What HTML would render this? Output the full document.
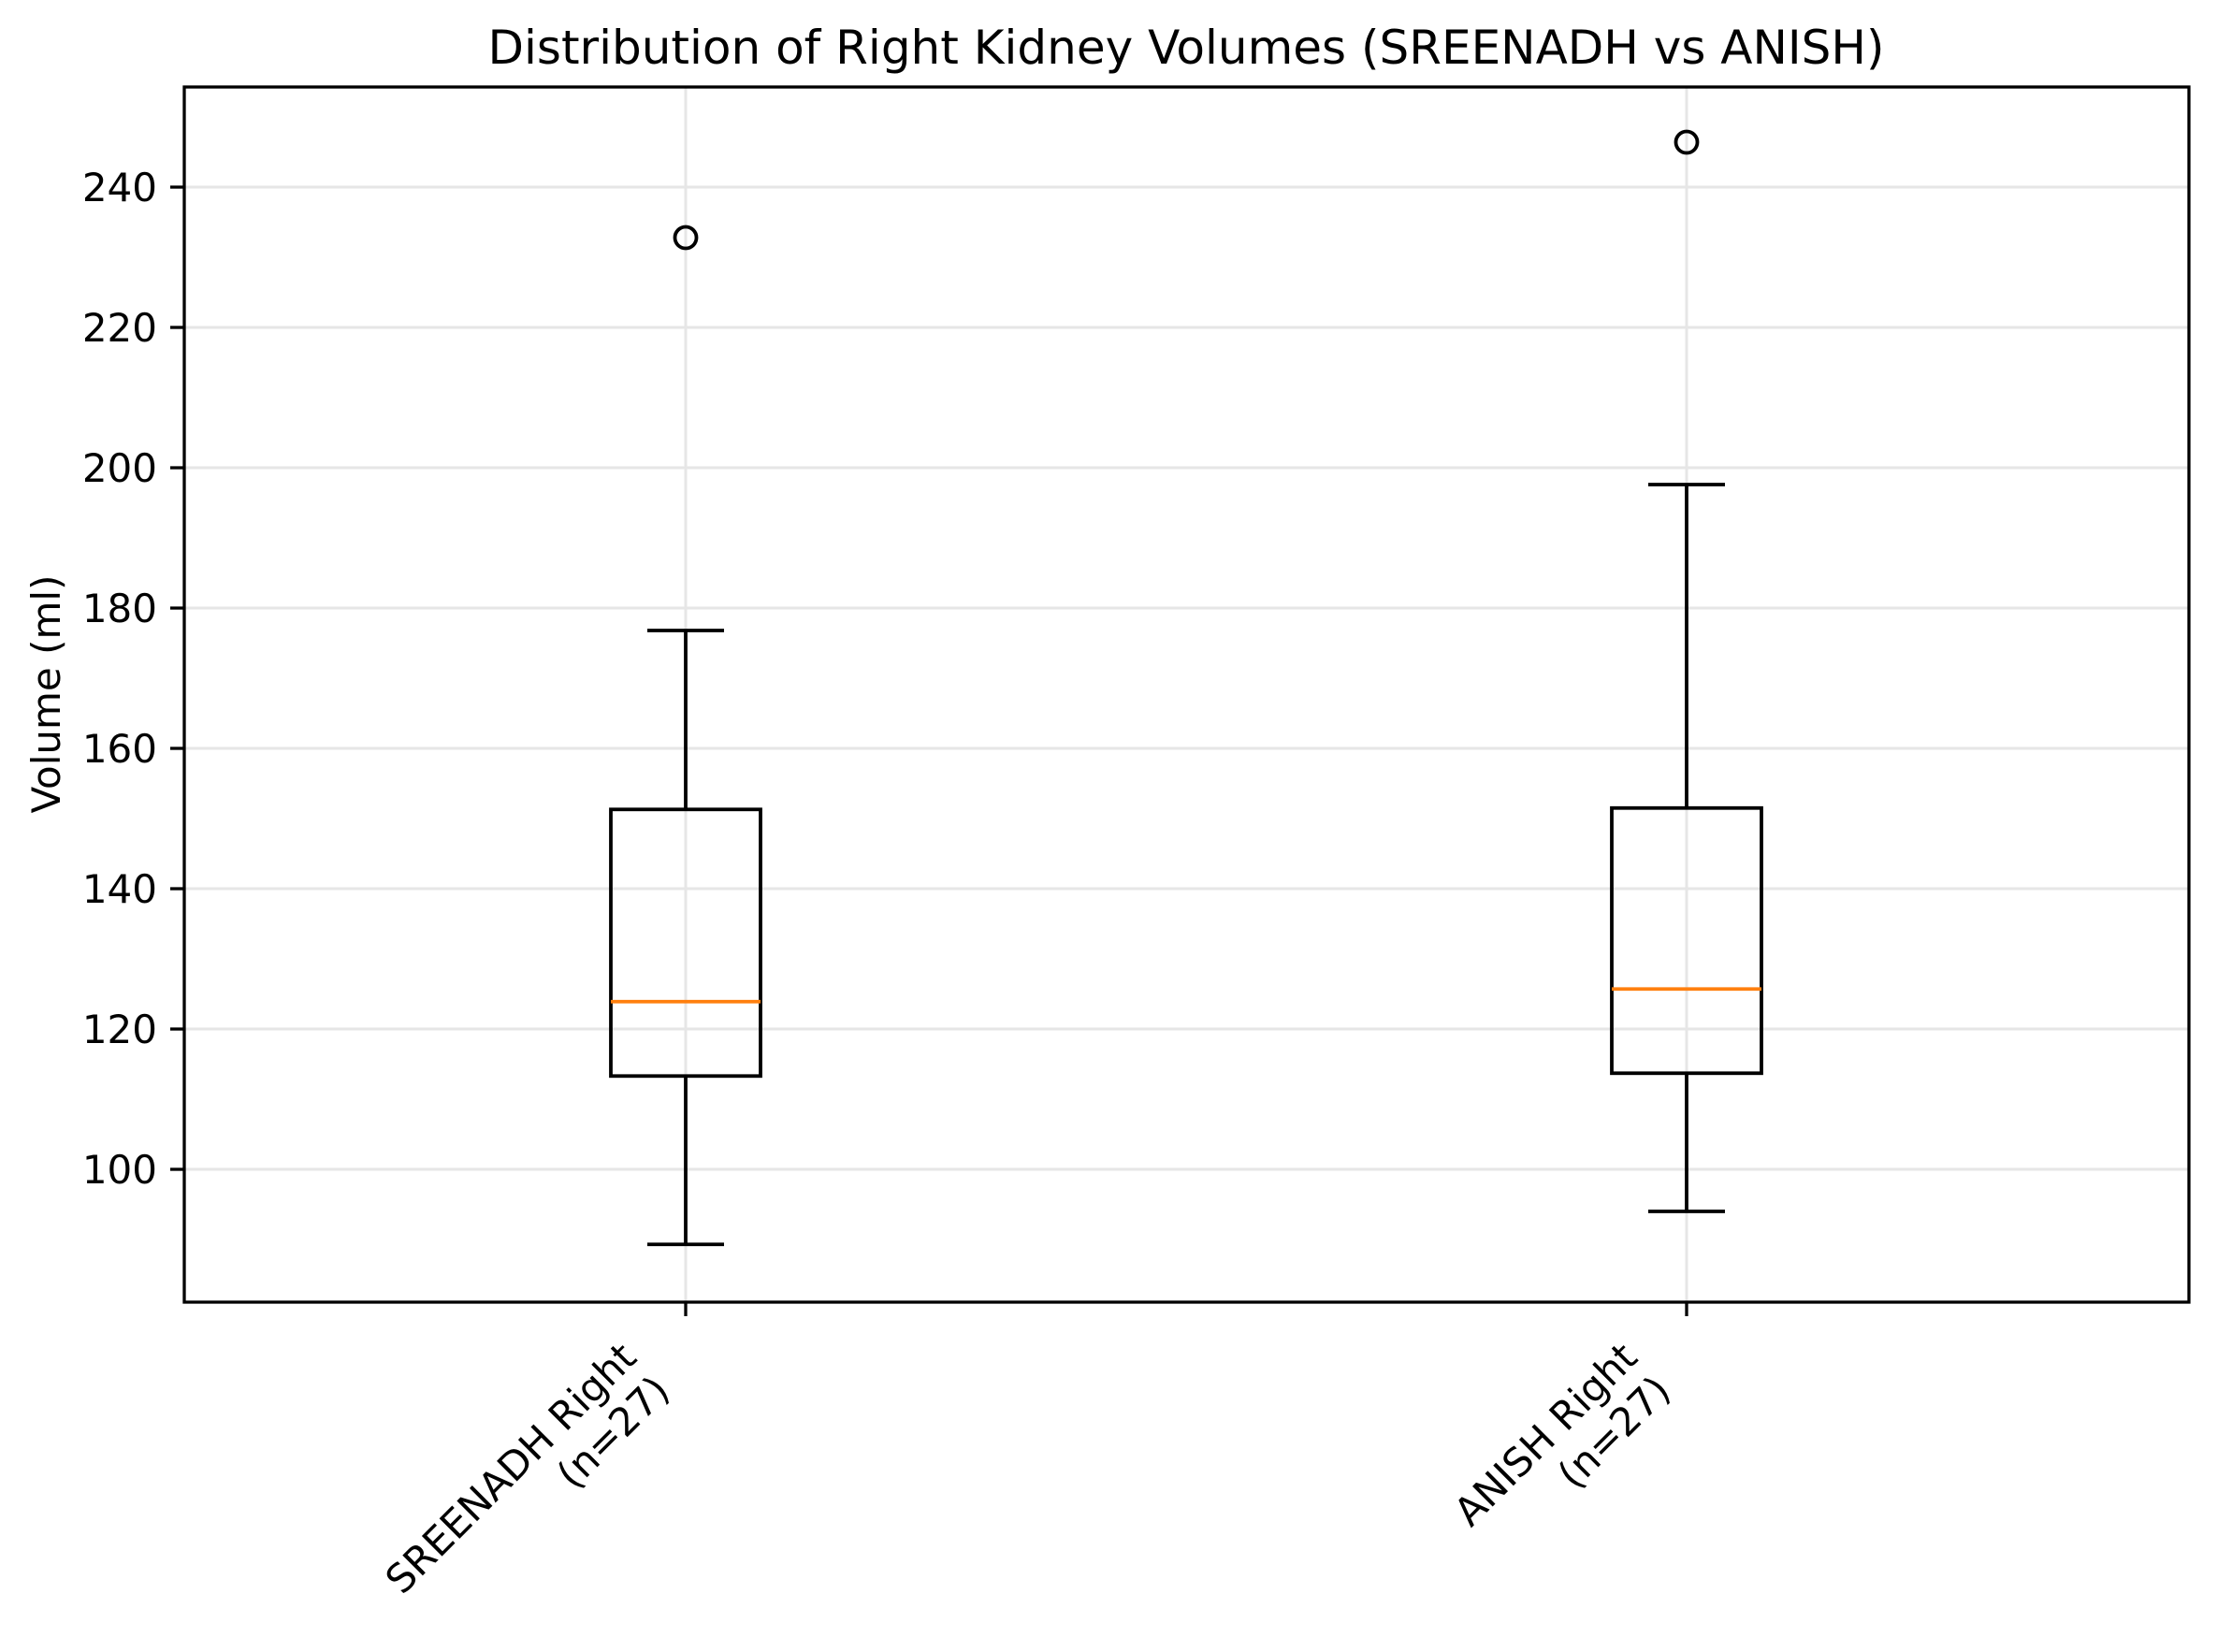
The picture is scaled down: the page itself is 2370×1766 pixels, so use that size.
<!DOCTYPE html>
<html><head><meta charset="utf-8"><style>
body{margin:0;background:#fff}
svg{display:block;font-family:"DejaVu Sans","Liberation Sans",sans-serif}
</style></head><body>
<svg id="chart" width="2370" height="1766" xmlns="http://www.w3.org/2000/svg">
<rect width="2370" height="1766" fill="#fff"/>
<text x="1268" y="68" font-size="50" text-anchor="middle">Distribution of Right Kidney Volumes (SREENADH vs ANISH)</text>
<text transform="translate(64,742) rotate(-90)" font-size="42" text-anchor="middle">Volume (ml)</text>
<g id="grid"></g><g id="marks"></g><g id="axes"></g>
</svg>
<script>
const categories = ["SREENADH Right", "ANISH Right"];
const counts = [27, 27];
const whiskerLow = [89.3, 94.0];
const q1 = [113.3, 113.7];
const medians = [123.9, 125.7];
const q3 = [151.3, 151.5];
const whiskerHigh = [176.8, 197.6];
const outliers = [[232.8], [246.4]];
const yTicks = [100, 120, 140, 160, 180, 200, 220, 240];

const L = 197, R = 2340, T = 93, B = 1392;
const yMin = 81.07, yMax = 254.27;
const y = v => B - (v - yMin) / (yMax - yMin) * (B - T);
const xPos = [733, 1803];
const x = i => xPos[0] + i * (xPos[1] - xPos[0]);
const NS = "http://www.w3.org/2000/svg";
function mk(parent, tag, attrs) {
  const e = document.createElementNS(NS, tag);
  for (const k in attrs) e.setAttribute(k, attrs[k]);
  parent.appendChild(e); return e;
}
const grid = document.getElementById('grid'), marks = document.getElementById('marks'), axes = document.getElementById('axes');
yTicks.forEach(t => {
  const g = mk(grid, 'line', {x1: L, x2: R, y1: y(t), y2: y(t), stroke: '#e6e6e6', 'stroke-width': 3});
  
  
  const tk = mk(axes, 'line', {x1: L - 15, x2: L, y1: y(t), y2: y(t), stroke: '#000', 'stroke-width': 3.3});
  
  
  const lb = mk(axes, 'text', {x: L - 29, y: y(t) + 15, 'font-size': 42, 'text-anchor': 'end'});
  lb.textContent = t;
  
  
});
categories.forEach((c, i) => {
  const cx = x(i);
  const gl = mk(grid, 'line', {x1: cx, x2: cx, y1: T, y2: B, stroke: '#e6e6e6', 'stroke-width': 3});
  
  
  const g = mk(marks, 'g', {});
  
  
  const bw = 80, cw = 41, st = {stroke: '#000', 'stroke-width': 3.8, fill: 'none'};
  mk(g, 'line', Object.assign({x1: cx, x2: cx, y1: y(q1[i]), y2: y(whiskerLow[i])}, st));
  mk(g, 'line', Object.assign({x1: cx, x2: cx, y1: y(q3[i]), y2: y(whiskerHigh[i])}, st));
  mk(g, 'line', Object.assign({x1: cx - cw, x2: cx + cw, y1: y(whiskerLow[i]), y2: y(whiskerLow[i])}, st));
  mk(g, 'line', Object.assign({x1: cx - cw, x2: cx + cw, y1: y(whiskerHigh[i]), y2: y(whiskerHigh[i])}, st));
  mk(g, 'rect', Object.assign({x: cx - bw, y: y(q3[i]), width: 2 * bw, height: y(q1[i]) - y(q3[i])}, st));
  const m = mk(g, 'line', {x1: cx - bw, x2: cx + bw, y1: y(medians[i]), y2: y(medians[i]), stroke: '#ff7f0e', 'stroke-width': 3.8});
  
  
  outliers[i].forEach(o => {
    const p = mk(g, 'circle', {cx: cx, cy: y(o), r: 11.5, fill: 'none', stroke: '#000', 'stroke-width': 3.8});
    
    
  });
  const tk = mk(axes, 'line', {x1: cx, x2: cx, y1: B, y2: B + 15, stroke: '#000', 'stroke-width': 3.3});
  
  
  const lb = mk(axes, 'text', {transform: `translate(0,0) rotate(-45)`, 'font-size': 42, 'text-anchor': 'end'});
  
  
  const t1 = mk(lb, 'tspan', {x: 0, y: 0}); t1.textContent = c;
  const t2 = mk(lb, 'tspan', {x: 0, y: 50}); t2.textContent = `(n=${counts[i]})`;
  const bb = lb.getBoundingClientRect();
  const dx = (cx - 8) - bb.right, dy = 1426 - bb.top;
  lb.setAttribute('transform', `translate(${dx},${dy}) rotate(-45)`);
});
const fr = mk(axes, 'rect', {x: L, y: T, width: R - L, height: B - T, fill: 'none', stroke: '#000', 'stroke-width': 3.3});


</script>
</body></html>
